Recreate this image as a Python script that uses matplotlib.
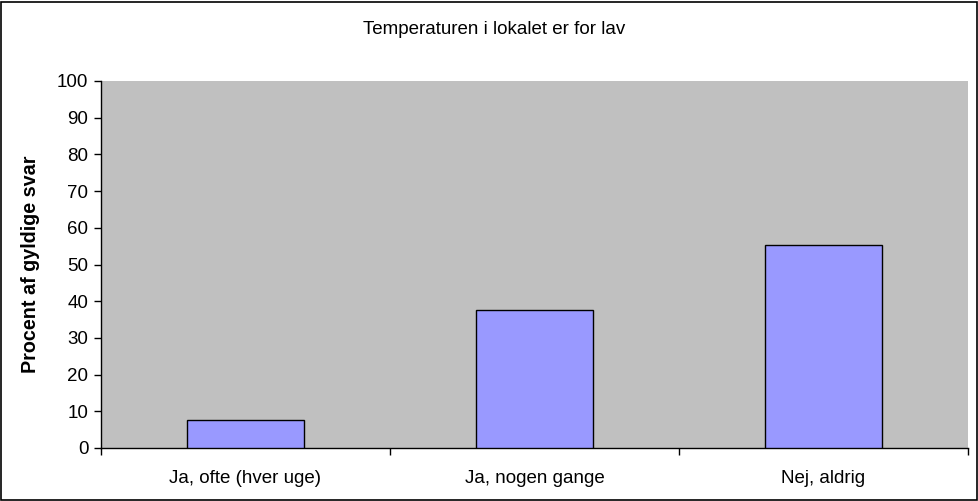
import numpy as np
import matplotlib
matplotlib.use("Agg")
import matplotlib.pyplot as plt
from matplotlib.patches import Rectangle

# Data
kategorier = ["Ja, ofte (hver uge)", "Ja, nogen gange", "Nej, aldrig"]
procent = [7.5, 37.5, 55.2]
y_ticks = list(range(0, 101, 10))

plt.rcParams['font.family'] = ['Liberation Sans', 'DejaVu Sans']

W, H = 979, 501
fig = plt.figure(figsize=(W / 100, H / 100), dpi=100)
fig.patch.set_facecolor("white")

# Rahmen um die ganze Figur
fig.add_artist(Rectangle((1 / W, 1 / H), (W - 3) / W, (H - 3) / H,
                         transform=fig.transFigure, fill=False,
                         edgecolor="black", linewidth=1.2))

# Plotbereich in Pixeln
x0, x1 = 101, 968
y_top, y_bot = 81, 448
ax = fig.add_axes([x0 / W, (H - y_bot) / H, (x1 - x0) / W, (y_bot - y_top) / H])
ax.set_facecolor("#C0C0C0")

x = np.arange(len(kategorier))
ax.bar(x, procent, width=0.405, color="#9999FF", edgecolor="black", linewidth=1.0, zorder=3)

ax.set_xlim(-0.5, len(kategorier) - 0.5)
ax.set_ylim(0, 100)
ax.set_yticks(y_ticks)
ax.tick_params(axis="y", labelsize=13.5, length=5, direction="out", width=1, pad=4)

# x-Ticks an den Kategoriegrenzen, Labels in der Mitte
ax.set_xticks(np.arange(-0.5, len(kategorier)), minor=False)
ax.set_xticklabels([])
ax.set_xticks(x, minor=True)
ax.set_xticklabels(kategorier, minor=True)
ax.tick_params(axis="x", which="major", length=5, width=1, direction="out")
ax.tick_params(axis="x", which="minor", length=0, labelsize=13.5, pad=16)

for s in ["top", "right"]:
    ax.spines[s].set_visible(False)
ax.spines["left"].set_linewidth(1)
ax.spines["bottom"].set_linewidth(1)

ax.set_ylabel("Procent af gyldige svar", fontsize=14.2, fontweight="bold", labelpad=12)
fig.text(494 / W, (H - 29) / H, "Temperaturen i lokalet er for lav", ha="center", va="center", fontsize=13.5)

fig.savefig("out.png", dpi=100)
